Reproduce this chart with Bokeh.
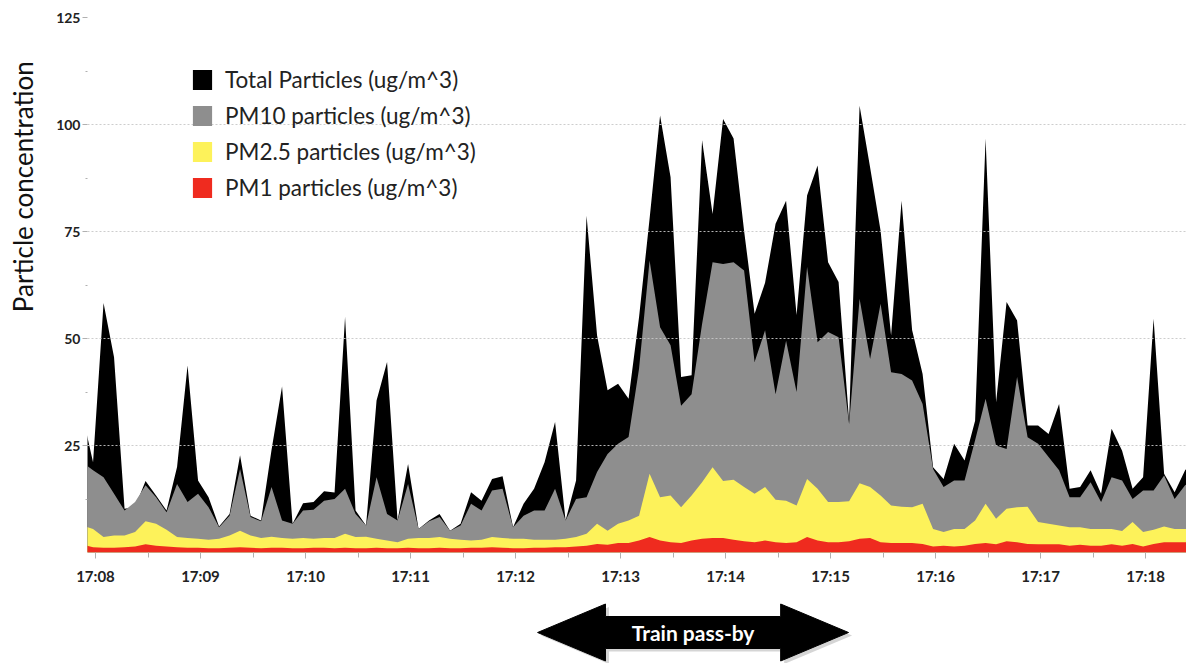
import math
import numpy as np
from bokeh.plotting import figure
from bokeh.models import Range1d, FixedTicker, Legend, LegendItem
from bokeh.layouts import column, row
from bokeh.embed import file_html
from bokeh.resources import INLINE
from bokeh.core.properties import value

# ---------------- data ----------------
# sample times: seconds relative to 17:08:00, one sample every 6 s
FIRST_SAMPLE_S = -7.4
SAMPLE_STEP_S = 6

total = [32, 21.1, 58.3, 45.6, 10.2, 10.6, 16.7, 13.3, 9.8, 20, 43.7,
         16.8, 12.9, 6.1, 9, 22.7, 8.6, 7.5, 24, 38.8, 6.7,
         11.5, 11.8, 14.3, 14, 55, 9.8, 6.3, 35.5, 44.5, 7.5,
         20.7, 5.5, 7.5, 9, 5.1, 6.7, 14.1, 12.1, 17.2, 17.8,
         5.9, 11.4, 14.9, 21.1, 30.5, 7.5, 16.8, 78.7, 50.7, 37.9,
         39.4, 35.9, 55, 78, 102.1, 87.7, 41, 41.4, 96.3, 79.1,
         101.3, 96.7, 75.2, 55.8, 63, 76.8, 82.2, 55.5, 83.4, 90.4,
         67.8, 63.2, 30.8, 104.4, 90, 75.2, 50.7, 82.2, 52, 41.7,
         19.9, 17.2, 25.4, 21.5, 30.8, 96.7, 35.1, 58.5, 54.2, 29.7,
         29.7, 27.7, 34.7, 14.9, 15.3, 19.2, 13.7, 28.9, 23.8, 14.9,
         17.6, 54.6, 18.4, 14.1, 19.2, 22]

pm10 = [21.1, 19.2, 17.6, 13.7, 9.8, 11.8, 15.7, 12.9, 9.4, 16, 11.8,
        13.7, 10.6, 5.9, 8.6, 19.5, 8.3, 7.3, 15.3, 7.5, 6.7,
        9.8, 10, 12.1, 12.5, 14.9, 9, 6.3, 17.6, 9, 7.5,
        16, 5.5, 7.3, 8.3, 5.1, 6.3, 11.4, 9.8, 14.5, 14.9,
        5.9, 8.6, 9.8, 9.8, 14.9, 7.5, 12.5, 12.9, 18.8, 23,
        25.4, 27, 43, 68.2, 52.6, 48.4, 34.3, 37, 53.4, 67.8,
        67.4, 67.8, 65.9, 44.5, 51.9, 37, 49.5, 37.5, 66.7, 49.1,
        51.5, 50.3, 30, 59.3, 45.2, 58.1, 42.1, 41.7, 40.2, 34.7,
        19.5, 15.3, 16.8, 16.8, 26.2, 35.9, 25, 24.2, 41, 26.9,
        25.4, 22.3, 19.2, 12.9, 12.9, 16.4, 11.8, 17.6, 16.8, 12.5,
        14.5, 14.5, 18, 12.5, 15.7, 17]

pm25 = [6.3, 5.5, 3.6, 4, 4, 4.8, 7.3, 6.7, 5.3, 3.6, 3.4,
        3.2, 3, 3.2, 4, 5.1, 4, 3.4, 3.7, 3.4, 3.2,
        3.4, 3.2, 3.4, 3.4, 4.4, 3.6, 3.7, 3.2, 2.8, 2.4,
        3.2, 3.4, 3.4, 3.6, 3.2, 3, 2.8, 3, 3.6, 3.4,
        3.2, 3.2, 3, 3, 3, 3.2, 3.6, 4.4, 6.7, 5.1,
        6.7, 7.5, 8.6, 18.4, 12.9, 13.3, 10.6, 13.3, 16.4, 19.9,
        16.7, 17, 15.3, 13.7, 15.3, 12.3, 12.1, 11, 17.2, 14.9,
        11.8, 11.8, 12, 16.2, 15.3, 13.3, 11, 10.7, 10.6, 11.4,
        5.5, 4.8, 5.5, 5.5, 7.5, 11.4, 7.9, 10.2, 10.6, 10.7,
        7.1, 6.7, 6.3, 5.9, 5.9, 5.5, 5.5, 5.5, 5, 7.1,
        4.8, 5.3, 6.1, 5.5, 5.5, 5.5]

pm1 = [1.9, 1.2, 1.1, 1.1, 1.2, 1.4, 1.9, 1.6, 1.4, 1.2, 1.1,
       1.1, 1.0, 1.0, 1.1, 1.2, 1.1, 1.0, 1.1, 1.1, 1.0,
       1.0, 1.1, 1.1, 1.0, 1.1, 1.0, 1.0, 1.1, 1.0, 1.0,
       1.1, 1.0, 1.0, 1.1, 1.0, 1.0, 1.1, 1.1, 1.2, 1.1,
       1.0, 1.0, 1.1, 1.1, 1.2, 1.2, 1.4, 1.6, 2.0, 1.8,
       2.2, 2.2, 2.8, 3.6, 2.8, 2.4, 2.2, 2.8, 3.2, 3.4,
       3.4, 3.0, 2.6, 2.4, 2.8, 2.4, 2.2, 2.4, 3.6, 2.8,
       2.4, 2.4, 2.6, 3.2, 3.4, 2.4, 2.2, 2.2, 2.2, 2.0,
       1.4, 1.6, 1.4, 1.6, 2.0, 2.2, 1.9, 2.6, 2.4, 2.0,
       1.9, 1.9, 1.9, 1.6, 1.8, 1.6, 1.6, 1.9, 1.6, 2.0,
       1.4, 2.0, 2.4, 2.4, 2.4, 2.4]

series_names = ["Total Particles (ug/m^3)", "PM10 particles (ug/m^3)",
                "PM2.5 particles (ug/m^3)", "PM1 particles (ug/m^3)"]
series_colors = ["#000000", "#8e8e8e", "#fdf25a", "#ef2b1f"]

tick_labels = ["17:08", "17:09", "17:10", "17:11", "17:12", "17:13",
               "17:14", "17:15", "17:16", "17:17", "17:18"]
y_ticks = [25, 50, 75, 100, 125]
Y_TITLE = "Particle concentration"

TRAIN_START_S = 252.6
TRAIN_END_S = 430.3
TRAIN_TEXT = "Train pass-by"

assert len(total) == len(pm10) == len(pm25) == len(pm1)
x = FIRST_SAMPLE_S + SAMPLE_STEP_S * np.arange(len(total))

FONT = "Lato"
LABEL_W = 40
TOP_H = 588

# ---------------- y title strip ----------------
pl = figure(width=LABEL_W, height=TOP_H, output_backend="svg", toolbar_location=None,
            x_range=Range1d(0, LABEL_W), y_range=Range1d(0, TOP_H),
            x_axis_location=None, y_axis_location=None,
            min_border_left=0, min_border_right=0, min_border_top=0,
            min_border_bottom=0)
pl.outline_line_color = None
pl.grid.visible = False
pl.text(x=[22], y=[TOP_H - 186], text=[Y_TITLE], angle=math.pi / 2,
        text_align="center", text_baseline="middle", text_font=value(FONT),
        text_font_size="26px", text_color="#111111")

# ---------------- main chart ----------------
p = figure(width=1186 - LABEL_W, height=TOP_H, output_backend="svg",
           toolbar_location=None,
           x_range=Range1d(-4.57, 623.4), y_range=Range1d(0, 125),
           min_border_left=87 - LABEL_W, min_border_right=0, min_border_top=17,
           min_border_bottom=36)
p.outline_line_color = None
p.background_fill_color = "white"
p.border_fill_color = "white"

renderers = []
for vals, col in zip([total, pm10, pm25, pm1], series_colors):
    r = p.varea(x=x, y1=0, y2=vals, fill_color=col)
    renderers.append(r)

p.xaxis.ticker = FixedTicker(ticks=[60 * i for i in range(len(tick_labels))],
                             minor_ticks=[30 + 60 * i for i in range(-1, len(tick_labels))])
p.xaxis.major_label_overrides = {60 * i: lbl for i, lbl in enumerate(tick_labels)}
p.yaxis.ticker = FixedTicker(ticks=y_ticks, minor_ticks=[t - 12.5 for t in y_ticks])
for ax in (p.xaxis[0], p.yaxis[0]):
    ax.axis_line_color = None
    ax.major_tick_line_color = "#b0b0b0"
    ax.minor_tick_line_color = "#b0b0b0"
    ax.major_tick_in = 0
    ax.minor_tick_in = 0
    ax.major_label_text_font = FONT
    ax.major_label_text_font_style = "bold"
    ax.major_label_text_color = "#222222"
p.xaxis.major_tick_out = 6
p.xaxis.minor_tick_out = 5
p.xaxis.major_label_standoff = 8
p.xaxis.major_label_text_font_size = "15px"
p.yaxis.major_tick_out = 5
p.yaxis.minor_tick_out = 2
p.yaxis.major_label_standoff = 2
p.yaxis.major_label_text_font_size = "14px"

p.xgrid.visible = False
p.ygrid.grid_line_color = "#c8c8c8"
p.ygrid.grid_line_alpha = 0.9
p.ygrid.grid_line_dash = "2 2"
p.ygrid.level = "overlay"

legend = Legend(items=[LegendItem(label=n, renderers=[r])
                       for n, r in zip(series_names, renderers)],
                location=(103, 351), orientation="vertical",
                glyph_width=24, glyph_height=25, label_height=25,
                spacing=9, label_standoff=11, padding=0, margin=0,
                background_fill_alpha=0, border_line_color=None,
                label_text_font=FONT, label_text_font_size="22.5px",
                label_text_color="#222222")
p.add_layout(legend)

# ---------------- arrow annotation below ----------------
BOT_H = 663 - TOP_H
p2 = figure(width=1186, height=BOT_H, output_backend="svg", toolbar_location=None,
            x_range=p.x_range, y_range=Range1d(0, BOT_H),
            x_axis_location=None, y_axis_location=None,
            min_border_left=87, min_border_right=0, min_border_top=0,
            min_border_bottom=0)
p2.outline_line_color = None
p2.grid.visible = False

head = 38.8
cy, hh, bh = 31, 28.5, 16
ax_pts = [TRAIN_START_S, TRAIN_START_S + head, TRAIN_START_S + head,
          TRAIN_END_S - head, TRAIN_END_S - head, TRAIN_END_S,
          TRAIN_END_S - head, TRAIN_END_S - head, TRAIN_START_S + head,
          TRAIN_START_S + head]
ay_pts = [cy, cy + hh, cy + bh, cy + bh, cy + hh, cy, cy - hh, cy - bh, cy - bh, cy - hh]
p2.patch([v + 2 for v in ax_pts], [v - 3 for v in ay_pts], fill_color="#888888",
         fill_alpha=0.35, line_color=None)
p2.patch(ax_pts, ay_pts, fill_color="black", line_color="black")
p2.text(x=[(TRAIN_START_S + TRAIN_END_S) / 2], y=[cy], text=[TRAIN_TEXT],
        text_color="white", text_font=value(FONT), text_font_style="bold",
        text_font_size="21px", text_align="center", text_baseline="middle")

layout = column(row(pl, p, spacing=0), p2, spacing=0)
open("out.html", "w").write(file_html(layout, INLINE))
